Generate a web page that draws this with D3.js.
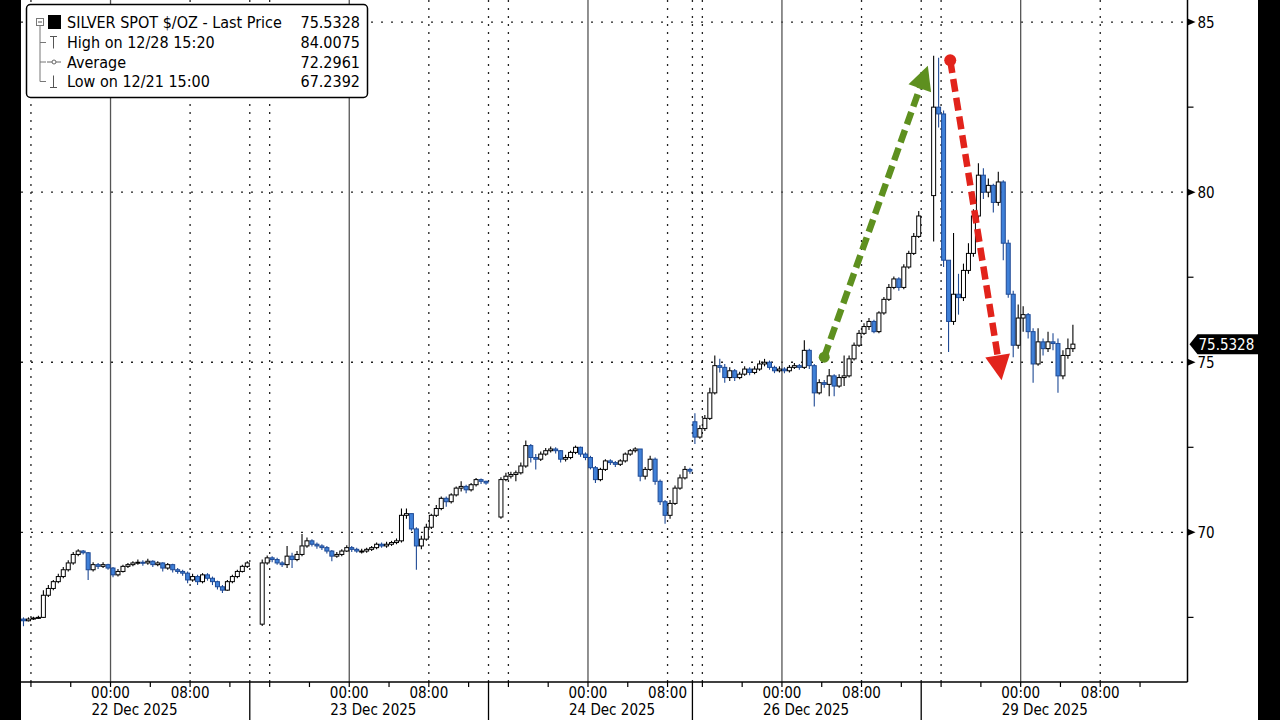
<!DOCTYPE html>
<html><head><meta charset="utf-8">
<script src="https://cdn.jsdelivr.net/npm/d3@7"></script>
<style>
html,body{margin:0;padding:0;background:#fff;overflow:hidden;}
svg{display:block;}
text{font-family:"DejaVu Sans Condensed","DejaVu Sans",sans-serif;font-stretch:condensed;}
</style></head><body>
<svg id="chart" width="1280" height="720"></svg>
<script>
// ---------------- DATA ----------------
const sessionNames  = ["22 Dec 2025","23 Dec 2025","24 Dec 2025","26 Dec 2025","29 Dec 2025"];
const sessionStarts = ["2025-12-21 15:00","2025-12-22 15:00","2025-12-23 15:00","2025-12-25 15:00","2025-12-28 15:00"];
const sessionEnds   = ["2025-12-22 14:00","2025-12-23 14:00","2025-12-24 10:30","2025-12-26 14:00","2025-12-29 14:00"];
const sessionOpens  = [67.45, 67.30, 70.45, 73.25, 79.90];

// 30-minute bars, session 1 (22 Dec)
const close1 = [67.40,67.45,67.48,67.50,68.15,68.35,68.55,68.70,68.90,69.10,69.35,69.45,69.40,68.90,69.05,69.00,69.05,68.95,68.75,68.85,69.00,69.05,69.10,69.12,69.10,69.15,69.05,69.10,68.95,69.05,68.90,68.85,68.80,68.60,68.70,68.55,68.75,68.65,68.55,68.40,68.30,68.55,68.70,68.85,69.00,69.10];
const high1  = [67.50,67.50,67.52,67.55,68.30,68.45,68.60,68.78,68.98,69.18,69.42,69.50,69.48,69.42,69.12,69.10,69.12,69.08,68.98,68.92,69.05,69.10,69.15,69.20,69.18,69.22,69.18,69.15,69.12,69.10,69.08,68.95,68.90,68.85,68.78,68.75,68.80,68.80,68.70,68.58,68.45,68.60,68.75,68.90,69.05,69.15];
const low1   = [67.24,67.38,67.42,67.45,67.48,68.10,68.30,68.50,68.65,68.85,69.05,69.30,69.35,68.60,68.85,68.92,68.95,68.90,68.68,68.70,68.82,68.95,69.00,69.05,69.02,69.05,68.98,69.00,68.85,68.90,68.82,68.78,68.72,68.50,68.55,68.45,68.50,68.58,68.45,68.32,68.22,68.28,68.50,68.65,68.82,68.95];
// session 2 (23 Dec)
const close2 = [69.10,69.25,69.20,69.10,69.05,69.30,69.20,69.35,69.60,69.75,69.65,69.60,69.55,69.45,69.30,69.35,69.45,69.55,69.50,69.45,69.45,69.50,69.55,69.65,69.60,69.65,69.70,69.75,70.50,70.55,70.10,69.60,69.80,70.15,70.50,70.70,71.00,70.90,71.10,71.30,71.35,71.25,71.40,71.55,71.50,71.45];
const high2  = [69.20,69.32,69.30,69.25,69.15,69.60,69.40,69.45,69.95,69.85,69.80,69.70,69.65,69.60,69.48,69.42,69.50,69.62,69.60,69.55,69.52,69.55,69.60,69.70,69.70,69.72,69.75,69.82,70.70,70.70,70.55,70.15,69.90,70.25,70.55,70.80,71.05,71.05,71.15,71.35,71.50,71.40,71.45,71.60,71.58,71.52];
const low2   = [67.25,69.05,69.12,69.05,68.98,68.95,68.95,69.15,69.30,69.55,69.58,69.52,69.48,69.38,69.15,69.25,69.30,69.42,69.42,69.40,69.38,69.40,69.45,69.50,69.55,69.55,69.60,69.65,69.70,70.40,70.05,68.90,69.50,69.75,70.10,70.45,70.65,70.75,70.85,71.05,71.20,71.15,71.20,71.35,71.42,71.40];
// session 3 (24 Dec)
const close3 = [71.55,71.65,71.70,71.75,71.95,72.55,72.20,72.15,72.30,72.40,72.45,72.40,72.15,72.20,72.35,72.50,72.30,72.20,71.90,71.55,71.85,72.10,72.05,72.00,72.10,72.30,72.40,72.45,71.65,71.85,72.15,71.50,70.90,70.50,70.85,71.30,71.60,71.85,71.80];
const high3  = [71.62,71.75,71.78,71.82,72.05,72.70,72.60,72.30,72.38,72.48,72.52,72.50,72.42,72.28,72.40,72.55,72.52,72.35,72.25,71.95,71.90,72.15,72.15,72.10,72.15,72.35,72.45,72.50,72.45,71.92,72.25,72.20,71.55,70.95,70.95,71.38,71.70,71.95,71.90];
const low3   = [70.40,71.50,71.58,71.50,71.70,71.90,72.05,71.85,72.10,72.25,72.35,72.32,72.05,72.08,72.15,72.30,72.22,72.12,71.85,71.45,71.50,71.80,71.98,71.92,71.95,72.05,72.25,72.35,71.50,71.55,71.80,71.40,70.80,70.25,70.40,70.80,71.25,71.55,71.72];
// session 4 (26 Dec)
const close4 = [72.80,73.05,73.35,74.10,74.90,74.85,74.55,74.75,74.55,74.65,74.80,74.70,74.80,74.95,75.00,74.85,74.75,74.80,74.75,74.85,74.90,74.85,75.35,74.90,74.10,74.40,74.35,74.60,74.30,74.55,74.60,75.10,75.50,75.85,76.05,76.20,75.90,76.45,76.85,77.20,77.45,77.20,77.80,78.20,78.70,79.30];
const high4  = [73.50,73.15,73.45,74.25,75.20,75.10,74.95,74.85,74.80,74.72,74.88,74.85,74.88,75.05,75.10,75.05,74.90,74.88,74.85,74.92,74.98,74.95,75.65,75.40,74.95,74.50,74.48,74.80,74.65,74.65,75.20,75.20,75.58,75.95,76.15,76.30,76.25,76.50,76.92,77.30,77.52,77.50,77.88,78.28,78.80,79.45];
const low4   = [72.60,72.75,72.98,73.30,74.05,74.70,74.40,74.45,74.45,74.50,74.60,74.62,74.65,74.75,74.88,74.78,74.68,74.70,74.68,74.70,74.80,74.78,74.80,74.80,73.70,74.05,74.25,74.00,74.00,74.25,74.30,74.55,75.05,75.45,75.80,75.95,75.85,75.85,76.40,76.80,77.15,77.10,77.15,77.75,78.15,78.65];
// session 5 (29 Dec)
const close5 = [82.50,82.30,78.00,76.20,77.00,76.90,77.70,78.20,79.30,80.50,80.00,80.20,79.70,80.30,78.50,77.00,75.50,76.30,76.40,75.90,74.95,75.60,75.40,75.60,75.55,74.60,75.20,75.40,75.5328];
const high5  = [84.0075,83.95,82.40,77.60,78.80,77.60,77.90,78.50,79.50,80.85,80.70,80.40,80.25,80.60,80.35,78.60,77.10,76.70,76.65,76.45,76.00,76.00,75.70,75.90,75.85,75.70,75.35,75.70,76.10];
const low5   = [78.55,81.90,77.80,75.30,76.10,76.40,76.80,77.60,78.10,79.20,79.80,79.85,79.40,79.60,78.00,76.90,75.15,75.40,75.90,75.70,74.40,74.90,75.20,75.30,75.35,74.10,74.50,75.10,75.30];

const yMajorTicks = [70, 75, 80, 85];
const yMinorTicks = [67.5, 72.5, 77.5, 82.5];
const lastPrice = 75.5328;

const legendLabels = ["SILVER SPOT $/OZ - Last Price","High on 12/28 15:20","Average","Low on 12/21 15:00"];
const legendValues = ["75.5328","84.0075","72.2961","67.2392"];

// annotation arrows: [start time, start price, end time, end price]
const greenArrow = ["2025-12-26 04:15", 75.15, "2025-12-28 14:40", 83.72];
const redArrow   = ["2025-12-28 16:55", 83.88, "2025-12-28 22:05", 74.47];

// --------------- SCALES ----------------
const parse = d3.utcParse("%Y-%m-%d %H:%M");
const HOUR = 3600e3, BAR = 30*60e3;
const closes = [close1, close2, close3, close4, close5];
const highs = [high1, high2, high3, high4, high5];
const lows = [low1, low2, low3, low4, low5];

const W = 1280, H = 720;
const plotL = 21, plotR = 1187.5, plotT = 0, plotB = 682;
const pxPerHour = 9.947;
// polylinear time scale: trading segments + collapsed holiday/weekend gaps
const brk = ["2025-12-21 15:00","2025-12-24 10:30","2025-12-25 15:00","2025-12-26 14:00","2025-12-28 14:00","2025-12-29 16:45"].map(parse);
const rng = [plotL]; let acc = 0;
for (let k = 1; k < brk.length; k++) {
  if ((k - 1) % 2 === 0) acc += (brk[k] - brk[k-1]) / HOUR;
  rng.push(plotL + acc * pxPerHour);
}
const x = d3.scaleUtc().domain(brk).range(rng);
const y = d3.scaleLinear().domain([65.6, 85.65]).range([plotB, plotT]);

const sessions = sessionNames.map((n, s) => ({
  name: n, start: parse(sessionStarts[s]), end: parse(sessionEnds[s]), open: sessionOpens[s]
}));
const candles = [];
sessions.forEach((se, s) => {
  closes[s].forEach((c, i) => {
    const t = new Date(+se.start + i * BAR);
    candles.push({t, o: i ? closes[s][i-1] : se.open, c, h: highs[s][i], l: lows[s][i]});
  });
});

// --------------- DRAW ----------------
const svg = d3.select("#chart");
svg.append("rect").attr("width", W).attr("height", H).attr("fill", "#fff");
svg.append("defs").append("clipPath").attr("id", "plotclip")
  .append("rect").attr("x", plotL).attr("y", plotT).attr("width", plotR - plotL).attr("height", plotB - plotT);

const grid = svg.append("g");
// horizontal dotted grid
grid.selectAll("line.h").data(yMajorTicks).join("line")
  .attr("x1", plotL).attr("x2", plotR).attr("y1", d => y(d)).attr("y2", d => y(d))
  .attr("stroke", "#222").attr("stroke-width", 1.3).attr("stroke-dasharray", "2,8");

// vertical grid per session
const vSolid = [], vDotted = [], bottomTicks = [], separators = [], labels = [];
sessions.forEach((se, s) => {
  for (let t = new Date(Math.ceil(+se.start / HOUR) * HOUR); t <= se.end; t = new Date(+t + HOUR)) {
    const hr = t.getUTCHours();
    if (hr === 0) vSolid.push(t);
    if (hr === 16 || hr === 8) vDotted.push(t);
    if (hr % 4 === 0) bottomTicks.push(t);
    if (hr === 0) labels.push({t, txt: "00:00", date: se.name});
    if (hr === 8) labels.push({t, txt: "08:00"});
  }
  if (s < sessions.length - 1) { vDotted.push(se.end); separators.push(se.end); }
});
grid.selectAll("line.vs").data(vSolid).join("line")
  .attr("x1", d => x(d)).attr("x2", d => x(d)).attr("y1", plotT).attr("y2", plotB)
  .attr("stroke", "#555").attr("stroke-width", 1.3);
grid.selectAll("line.vd").data(vDotted).join("line")
  .attr("x1", d => x(d)).attr("x2", d => x(d)).attr("y1", plotT).attr("y2", plotB)
  .attr("stroke", "#222").attr("stroke-width", 1.3).attr("stroke-dasharray", "2,6");

// candles
const cg = svg.append("g").attr("clip-path", "url(#plotclip)");
const cx = d => x(new Date(+d.t + BAR / 2));
const up = d => d.c >= d.o;
cg.selectAll("line.wick").data(candles).join("line")
  .attr("x1", cx).attr("x2", cx).attr("y1", d => y(d.h)).attr("y2", d => y(d.l))
  .attr("stroke", d => up(d) ? "#000" : "#1f4a95").attr("stroke-width", 1.1);
cg.selectAll("rect.body").data(candles).join("rect")
  .attr("x", d => cx(d) - 2).attr("width", 4)
  .attr("y", d => y(Math.max(d.o, d.c)))
  .attr("height", d => Math.max(1, Math.abs(y(d.o) - y(d.c))))
  .attr("fill", d => up(d) ? "#fff" : "#3f80d8")
  .attr("stroke", d => up(d) ? "#000" : "#1f4a95").attr("stroke-width", 1);

// arrows
function drawArrow(a, color, headLen, headHalf, dotR) {
  const x0 = x(parse(a[0])), y0 = y(a[1]), x1 = x(parse(a[2])), y1 = y(a[3]);
  const dx = x1 - x0, dy = y1 - y0, L = Math.hypot(dx, dy), ux = dx / L, uy = dy / L;
  const bx = x1 - ux * headLen, by = y1 - uy * headLen;
  const g = svg.append("g");
  g.append("line").attr("x1", x0).attr("y1", y0).attr("x2", bx + ux * 2).attr("y2", by + uy * 2)
    .attr("stroke", color).attr("stroke-width", 6.5).attr("stroke-dasharray", "13,6");
  g.append("circle").attr("cx", x0).attr("cy", y0).attr("r", dotR).attr("fill", color);
  g.append("path").attr("d", `M${x1},${y1}L${bx - uy * headHalf},${by + ux * headHalf}L${bx + uy * headHalf},${by - ux * headHalf}Z`)
    .attr("fill", color);
}
drawArrow(greenArrow, "#5e901f", 24, 12, 5.5);
drawArrow(redArrow, "#e2231b", 25, 12.5, 6);

// axes frame
svg.append("line").attr("x1", plotL).attr("x2", plotR).attr("y1", plotB).attr("y2", plotB).attr("stroke", "#000").attr("stroke-width", 1.5);
svg.append("line").attr("x1", plotR).attr("x2", plotR).attr("y1", 0).attr("y2", plotB).attr("stroke", "#000").attr("stroke-width", 1.5);

// bottom ticks
svg.selectAll("line.bt").data(bottomTicks).join("line")
  .attr("x1", d => x(d)).attr("x2", d => x(d)).attr("y1", plotB).attr("y2", plotB + 5)
  .attr("stroke", "#000").attr("stroke-width", 1.2);
svg.selectAll("line.sep").data(separators).join("line")
  .attr("x1", d => x(d)).attr("x2", d => x(d)).attr("y1", plotB).attr("y2", H)
  .attr("stroke", "#000").attr("stroke-width", 1.3);
svg.selectAll("text.tl").data(labels).join("text")
  .attr("x", d => x(d.t)).attr("y", 698).attr("text-anchor", "middle")
  .attr("font-size", 15).attr("fill", "#000").text(d => d.txt);
svg.selectAll("text.dl").data(labels.filter(d => d.date)).join("text")
  .attr("x", d => x(d.t) - 19).attr("y", 715).attr("text-anchor", "start")
  .attr("font-size", 15).attr("fill", "#000").text(d => d.date);

// right axis
svg.selectAll("path.maj").data(yMajorTicks).join("path")
  .attr("d", d => `M${plotR},${y(d) - 3.5}L${plotR + 8},${y(d)}L${plotR},${y(d) + 3.5}Z`).attr("fill", "#000");
svg.selectAll("line.min").data(yMinorTicks).join("line")
  .attr("x1", plotR).attr("x2", plotR + 6).attr("y1", d => y(d)).attr("y2", d => y(d))
  .attr("stroke", "#000").attr("stroke-width", 1.2);
svg.selectAll("text.yl").data(yMajorTicks).join("text")
  .attr("x", plotR + 10).attr("y", d => y(d)).attr("dy", "0.36em")
  .attr("font-size", 15).attr("fill", "#000").text(d => d);

// last price tag
const ly = y(lastPrice);
svg.append("path").attr("d", `M${plotR + 2},${ly}L${plotR + 10},${ly - 10}L1258,${ly - 10}L1258,${ly + 10}L${plotR + 10},${ly + 10}Z`).attr("fill", "#000");
svg.append("text").attr("x", plotR + 11).attr("y", ly).attr("dy", "0.36em").attr("font-size", 15)
  .attr("fill", "#fff").text(lastPrice.toFixed(4));

// legend
const lg = svg.append("g");
lg.append("rect").attr("x", 26.5).attr("y", 4.5).attr("width", 341).attr("height", 93).attr("rx", 4)
  .attr("fill", "#fff").attr("stroke", "#000").attr("stroke-width", 1.5);
const rowY = [22, 42.5, 62, 81.5];
lg.append("line").attr("x1", 40).attr("x2", 40).attr("y1", 26).attr("y2", rowY[3]).attr("stroke", "#777").attr("stroke-width", 1);
[1, 2, 3].forEach(r => lg.append("line").attr("x1", 40).attr("x2", 46).attr("y1", rowY[r]).attr("y2", rowY[r]).attr("stroke", "#777"));
lg.append("rect").attr("x", 36.5).attr("y", 18.5).attr("width", 7).attr("height", 7).attr("fill", "#fff").attr("stroke", "#777");
lg.append("line").attr("x1", 38).attr("x2", 42).attr("y1", 22).attr("y2", 22).attr("stroke", "#555");
lg.append("rect").attr("x", 48).attr("y", 15).attr("width", 13).attr("height", 14).attr("fill", "#000");
// high icon
lg.append("path").attr("d", `M50,${rowY[1] - 6}H57M53.5,${rowY[1] - 6}V${rowY[1] + 6}`).attr("stroke", "#555").attr("fill", "none");
// average icon
lg.append("line").attr("x1", 47).attr("x2", 61).attr("y1", rowY[2]).attr("y2", rowY[2]).attr("stroke", "#666");
lg.append("circle").attr("cx", 54).attr("cy", rowY[2]).attr("r", 2).attr("fill", "#fff").attr("stroke", "#666");
// low icon
lg.append("path").attr("d", `M50,${rowY[3] + 6}H57M53.5,${rowY[3] - 6}V${rowY[3] + 6}`).attr("stroke", "#555").attr("fill", "none");
lg.selectAll("text.ll").data(legendLabels).join("text")
  .attr("x", 67).attr("y", (d, i) => rowY[i]).attr("dy", "0.36em").attr("font-size", 16).attr("fill", "#000").text(d => d);
lg.selectAll("text.lv").data(legendValues).join("text")
  .attr("x", 360).attr("y", (d, i) => rowY[i]).attr("dy", "0.36em").attr("text-anchor", "end").attr("font-size", 16).attr("fill", "#000").text(d => d);

// black side borders
svg.append("rect").attr("x", 0).attr("y", 0).attr("width", plotL).attr("height", H).attr("fill", "#000");
svg.append("rect").attr("x", 1258).attr("y", 0).attr("width", W - 1258).attr("height", H).attr("fill", "#000");
</script>
</body></html>
